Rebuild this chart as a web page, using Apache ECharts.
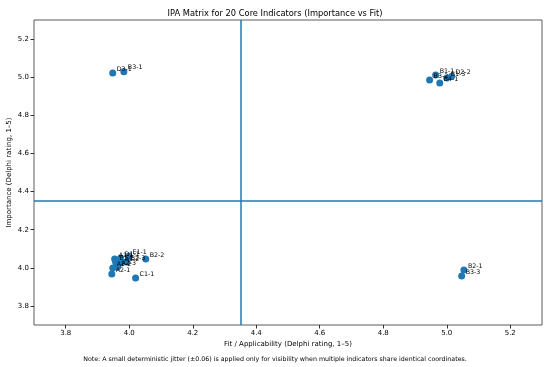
<!DOCTYPE html>
<html><head><meta charset="utf-8">
<script src="https://cdn.jsdelivr.net/npm/echarts@6/dist/echarts.min.js"></script>
<style>html,body{margin:0;padding:0;background:#fff}#c{width:550px;height:367px}</style>
</head><body><div id="c"></div>
<script>
const names = ["D3-1","B3-1","B3-2","B1-1","B4-1","B1-3","D2-2","B2-1","B3-3","A1-1","D1-1","E1-1","B2-2","E1-2","B2-3","A1-2","A2-2","A2-3","A2-1","C1-1"];
const fitVals = [3.948,3.983,4.946,4.965,4.978,5.000,5.015,5.054,5.047,3.954,3.973,3.998,4.052,3.957,3.992,3.973,3.948,3.963,3.945,4.020];
const impVals = [5.022,5.028,4.985,5.011,4.970,4.996,5.004,3.988,3.957,4.046,4.051,4.061,4.046,4.030,4.030,4.025,3.999,4.004,3.967,3.946];
const xTicks = [3.8,4.0,4.2,4.4,4.6,4.8,5.0,5.2];
const yTicks = [3.8,4.0,4.2,4.4,4.6,4.8,5.0,5.2];
const fitCut = 4.35, impCut = 4.35;
const titleText = "IPA Matrix for 20 Core Indicators (Importance vs Fit)";
const xName = "Fit / Applicability (Delphi rating, 1\u20135)";
const yName = "Importance (Delphi rating, 1\u20135)";
const noteText = "Note: A small deterministic jitter (\u00b10.06) is applied only for visibility when multiple indicators share identical coordinates.";

const pts = names.map((n,i)=>[fitVals[i], impVals[i], n]);
const F = "DejaVu Sans";
const C = "#1f77b4";
const chart = echarts.init(document.getElementById('c'), null, {renderer:'canvas'});
const axisCommon = (ticks)=>({
  type:'value', min:3.7, max:5.3,
  axisLine:{show:false},
  splitLine:{show:false},
  axisTick:{show:true, inside:false, length:3.5, lineStyle:{color:'#000', width:0.8}, customValues:ticks},
  axisLabel:{color:'#000', fontFamily:F, fontSize:7, margin:5, customValues:ticks, formatter:v=>v.toFixed(1)},
  nameLocation:'middle',
  nameMoveOverlap:false,
  nameTextStyle:{color:'#000', fontFamily:F, fontSize:7}
});
chart.setOption({
  animation:false,
  title:{text:titleText, left:'center', top:5, textStyle:{fontFamily:F, fontSize:8.3, fontWeight:'normal', color:'#000'}},
  grid:{left:34, right:8, top:20, bottom:42, outerBoundsMode:'none', containLabel:false, show:true, borderColor:'#333', borderWidth:0.8, backgroundColor:'transparent'},
  xAxis:Object.assign(axisCommon(xTicks), {name:xName, nameGap:16}),
  yAxis:Object.assign(axisCommon(yTicks), {name:yName, nameGap:21}),
  graphic:[{type:'text', left:'center', top:356, style:{text:noteText, fontFamily:F, fontSize:6.3, fill:'#000'}}],
  series:[{
    type:'scatter', data:pts, symbolSize:7,
    itemStyle:{color:C, opacity:1},
    label:{show:true, position:[7.5,-0.5], align:'left', verticalAlign:'middle', formatter:p=>p.data[2], fontFamily:F, fontSize:6.3, color:'#000'},
    labelLayout:{hideOverlap:false},
    markLine:{silent:true, symbol:'none', label:{show:false},
      lineStyle:{color:C, width:1.5, type:'solid', opacity:1},
      emphasis:{disabled:true},
      data:[{xAxis:fitCut},{yAxis:impCut}]}
  }]
});
</script></body></html>
